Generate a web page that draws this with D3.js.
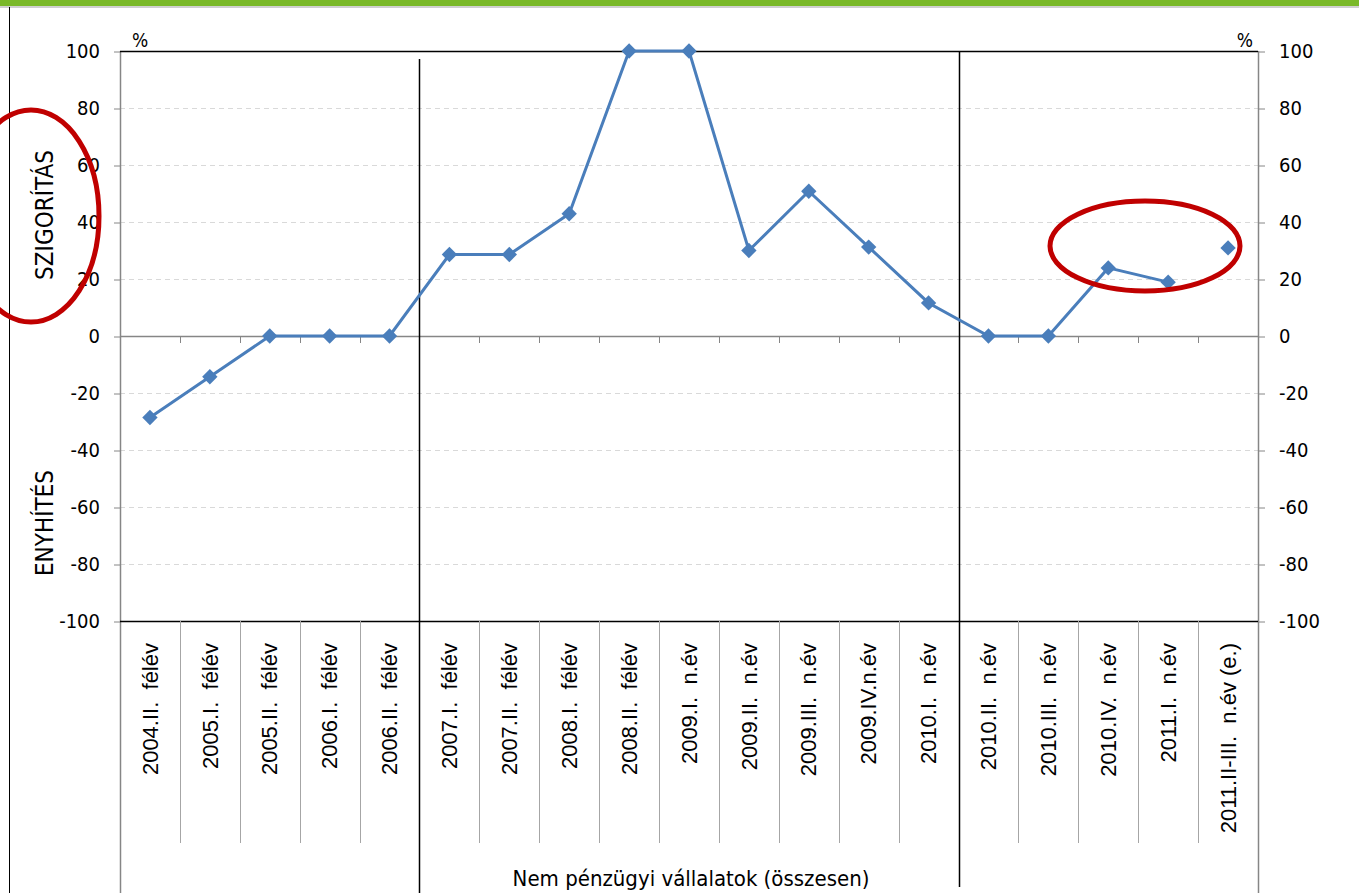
<!DOCTYPE html>
<html>
<head>
<meta charset="utf-8">
<script src="https://cdn.jsdelivr.net/npm/d3@7"></script>
<style>
  body { margin: 0; background: #fff; }
  svg { display: block; }
</style>
</head>
<body>
<div id="chart"></div>
<script>
'use strict'
// chart data
const categories = [
  '2004.II.  félév', '2005.I.  félév', '2005.II.  félév', '2006.I.  félév', '2006.II.  félév',
  '2007.I.  félév', '2007.II.  félév', '2008.I.  félév', '2008.II.  félév',
  '2009.I.  n.év', '2009.II.  n.év', '2009.III.  n.év', '2009.IV.n.év', '2010.I.  n.év',
  '2010.II.  n.év', '2010.III.  n.év', '2010.IV.  n.év', '2011.I.  n.év', '2011.II-III.  n.év (e.)'
]
const actual = [-28.6, -14.3, 0, 0, 0, 28.6, 28.6, 42.9, 100, 100, 30, 50.8, 31.2, 11.6, 0, 0, 23.9, 18.9, null]
const estimate = [null, null, null, null, null, null, null, null, null, null, null, null, null, null, null, null, null, null, 30.9]
const yTicks = [-100, -80, -60, -40, -20, 0, 20, 40, 60, 80, 100]
const breaks = [5, 14]  // index of the category where a black divider starts
const groupLabel = 'Nem pénzügyi vállalatok (összesen)'
const upLabel = 'SZIGORÍTÁS'
const downLabel = 'ENYHÍTÉS'

const width = 1359
const height = 893
const plotLeft = 120
const plotRight = 1258
const plotTop = 51
const plotBottom = 621
const labelBottom = 843
const lineColor = '#4a7ebb'
const axisGrey = '#868686'
const tickFont = '"DejaVu Sans Condensed", "DejaVu Sans", sans-serif'

let svg = d3.select('#chart').append('svg')
  .attr('width', width)
  .attr('height', height)

// green bar at the top
svg.append('rect').attr('x', 0).attr('y', 0).attr('width', width).attr('height', 6).attr('fill', '#7ab929')
svg.append('line').attr('x1', 0).attr('x2', width).attr('y1', 7).attr('y2', 7).attr('stroke', '#a0a0a0')
svg.append('line').attr('x1', 9.5).attr('x2', 9.5).attr('y1', 7).attr('y2', height).attr('stroke', '#000')

let x = d3.scaleBand().domain(categories).range([plotLeft, plotRight])
let y = d3.scaleLinear().domain([-100, 100]).range([plotBottom, plotTop])

// dashed gridlines
svg.append('g').selectAll('line')
  .data(yTicks.filter(d => d !== 0 && Math.abs(d) !== 100))
  .enter().append('line')
  .attr('x1', plotLeft).attr('x2', plotRight)
  .attr('y1', d => y(d) + 0.5).attr('y2', d => y(d) + 0.5)
  .attr('stroke', '#d9d9d9')
  .attr('stroke-dasharray', '5,4')

// left and right value axes
let yLeft = d3.axisLeft(y).tickValues(yTicks).tickSize(6).tickPadding(14).tickFormat(d => String(d))
let yRight = d3.axisRight(y).tickValues(yTicks).tickSize(7).tickPadding(14).tickFormat(d => String(d))
function styleAxis(g) {
  g.select('.domain').remove()
  g.selectAll('line').attr('stroke', axisGrey)
  g.selectAll('text').attr('font-family', tickFont).attr('font-size', 20).attr('fill', '#000')
}
svg.append('g').attr('transform', 'translate(' + plotLeft + ',0.5)').call(yLeft).call(styleAxis)
svg.append('g').attr('transform', 'translate(' + plotRight + ',0.5)').call(yRight).call(styleAxis)

svg.append('line').attr('x1', plotLeft + 0.5).attr('x2', plotLeft + 0.5).attr('y1', plotTop).attr('y2', height).attr('stroke', axisGrey).attr('stroke-width', 1.5)
svg.append('line').attr('x1', plotRight + 0.5).attr('x2', plotRight + 0.5).attr('y1', plotTop).attr('y2', height).attr('stroke', axisGrey).attr('stroke-width', 1.5)

// top and bottom edges of the plot
svg.append('line').attr('x1', plotLeft).attr('x2', plotRight).attr('y1', plotTop + 0.5).attr('y2', plotTop + 0.5).attr('stroke', '#000').attr('stroke-width', 1.5)
svg.append('line').attr('x1', plotLeft).attr('x2', plotRight).attr('y1', plotBottom + 0.5).attr('y2', plotBottom + 0.5).attr('stroke', '#000').attr('stroke-width', 1.5)

// zero line acting as category axis
svg.append('line').attr('x1', plotLeft).attr('x2', plotRight).attr('y1', y(0) + 0.5).attr('y2', y(0) + 0.5).attr('stroke', axisGrey).attr('stroke-width', 1.5)
svg.append('g').selectAll('line')
  .data(categories.slice(1))
  .enter().append('line')
  .attr('x1', d => Math.round(x(d)) + 0.5).attr('x2', d => Math.round(x(d)) + 0.5)
  .attr('y1', y(0)).attr('y2', y(0) + 7)
  .attr('stroke', axisGrey)

// category cells below the plot
svg.append('g').selectAll('line')
  .data(categories.slice(1).filter((d, i) => breaks.indexOf(i + 1) < 0))
  .enter().append('line')
  .attr('x1', d => Math.round(x(d)) + 0.5).attr('x2', d => Math.round(x(d)) + 0.5)
  .attr('y1', plotBottom).attr('y2', labelBottom)
  .attr('stroke', '#a6a6a6')

svg.append('g').selectAll('text')
  .data(categories)
  .enter().append('text')
  .attr('transform', d => 'translate(' + (x(d) + x.bandwidth() / 2) + ',643) rotate(-90)')
  .attr('text-anchor', 'end')
  .attr('dy', '0.35em')
  .attr('font-family', '"Liberation Sans", Arial, sans-serif')
  .attr('font-size', 22)
  .style('white-space', 'pre')
  .text(d => d)

// black dividers through plot and labels
svg.append('g').selectAll('line')
  .data(breaks)
  .enter().append('line')
  .attr('x1', d => Math.round(x(categories[d])) + 0.5).attr('x2', d => Math.round(x(categories[d])) + 0.5)
  .attr('y1', (d, i) => i === 0 ? 59 : plotTop).attr('y2', (d, i) => i === 0 ? height : 887)
  .attr('stroke', '#000')
  .attr('stroke-width', 1.5)

svg.append('text')
  .attr('x', (plotLeft + plotRight) / 2 + 2).attr('y', 886)
  .attr('text-anchor', 'middle')
  .attr('font-family', tickFont).attr('font-size', 22)
  .text(groupLabel)

// unit labels
svg.append('text').attr('x', 132).attr('y', 47).attr('font-family', tickFont).attr('font-size', 19).text('%')
svg.append('text').attr('x', 1253).attr('y', 47).attr('text-anchor', 'end').attr('font-family', tickFont).attr('font-size', 19).text('%')

// direction labels
svg.append('text')
  .attr('transform', 'translate(45,215) rotate(-90)')
  .attr('text-anchor', 'middle').attr('dy', '0.35em')
  .attr('font-family', tickFont).attr('font-size', 24)
  .text(upLabel)
svg.append('text')
  .attr('transform', 'translate(45,523) rotate(-90)')
  .attr('text-anchor', 'middle').attr('dy', '0.35em')
  .attr('font-family', tickFont).attr('font-size', 24)
  .text(downLabel)

// data line and markers
let cx = d => x(d) + x.bandwidth() / 2
let line = d3.line()
  .defined(d => d[1] !== null)
  .x(d => cx(d[0]))
  .y(d => y(d[1]))

function drawSeries(vals) {
  let pts = categories.map((c, i) => [c, vals[i]])
  svg.append('path')
    .datum(pts)
    .attr('d', line)
    .attr('fill', 'none')
    .attr('stroke', lineColor)
    .attr('stroke-width', 3)
  svg.append('g').selectAll('path')
    .data(pts.filter(p => p[1] !== null))
    .enter().append('path')
    .attr('d', d3.symbol().type(d3.symbolSquare).size(118))
    .attr('transform', d => 'translate(' + cx(d[0]) + ',' + y(d[1]) + ') rotate(45)')
    .attr('fill', lineColor)
}
drawSeries(actual)
drawSeries(estimate)

// red highlight ellipses
svg.append('ellipse').attr('cx', 31).attr('cy', 216).attr('rx', 68).attr('ry', 106)
  .attr('fill', 'none').attr('stroke', '#c00000').attr('stroke-width', 5)
svg.append('ellipse').attr('cx', 1145).attr('cy', 246).attr('rx', 95).attr('ry', 45)
  .attr('fill', 'none').attr('stroke', '#c00000').attr('stroke-width', 5)
</script>
</body>
</html>
